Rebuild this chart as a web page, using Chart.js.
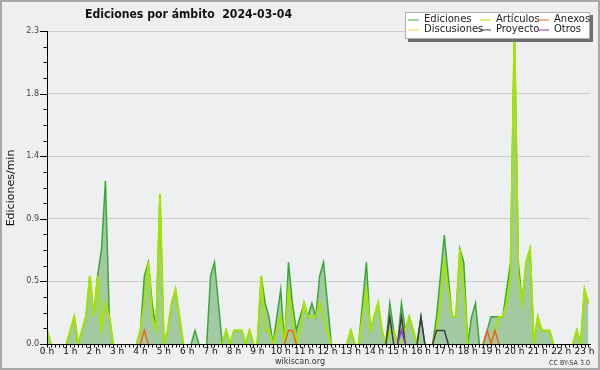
<!DOCTYPE html>
<html lang="es">
<head>
<meta charset="utf-8">
<title>Ediciones por ámbito 2024-03-04</title>
<script src="https://cdn.jsdelivr.net/npm/chart.js@4/dist/chart.umd.min.js"></script>
<style>
  html, body { margin: 0; padding: 0; background: #eeeff1; }
  #wrap { width: 600px; height: 370px; }
</style>
</head>
<body>
<div id="wrap"><canvas id="myChart" width="600" height="370"></canvas></div>
<script>
/*=====================================================================
  Ediciones por ámbito 2024-03-04 (una muestra cada 10 minutos)
=====================================================================*/

// Etiquetas de las horas (una cada 6 muestras)
const hourLabels = [
  "0 h", "1 h", "2 h", "3 h", "4 h", "5 h", "6 h", "7 h",
  "8 h", "9 h", "10 h", "11 h", "12 h", "13 h", "14 h", "15 h",
  "16 h", "17 h", "18 h", "19 h", "20 h", "21 h", "22 h", "23 h",
];

// Etiquetas del eje Y
const yLabels = ["0.0", "0.5", "0.9", "1.4", "1.8", "2.3"];
const Y_MAX = 2.3;

// Ediciones/min, una fila por hora
const ediciones = [
  0.1, 0, 0, 0, 0, 0,
  0.1, 0.2, 0, 0.1, 0.2, 0.5,
  0.2, 0.5, 0.7, 1.2, 0.2, 0,
  0, 0, 0, 0, 0, 0,
  0.1, 0.5, 0.6, 0.3, 0.1, 1.1,
  0, 0.1, 0.3, 0.4, 0.2, 0,
  0, 0, 0.1, 0, 0, 0,
  0.5, 0.6, 0.3, 0, 0.1, 0,
  0.1, 0.1, 0.1, 0, 0.1, 0,
  0, 0.5, 0.3, 0.2, 0, 0.2,
  0.4, 0, 0.6, 0.3, 0.1, 0.2,
  0.3, 0.2, 0.3, 0.2, 0.5, 0.6,
  0.3, 0, 0, 0, 0, 0,
  0.1, 0, 0, 0.3, 0.6, 0.1,
  0.2, 0.3, 0.1, 0, 0.3, 0.1,
  0, 0.3, 0.1, 0.2, 0.1, 0,
  0.2, 0, 0, 0, 0.2, 0.5,
  0.8, 0.5, 0.2, 0.2, 0.7, 0.6,
  0, 0.2, 0.3, 0, 0, 0.1,
  0.2, 0.2, 0.2, 0.2, 0.4, 0.6,
  2.3, 0.6, 0.3, 0.6, 0.7, 0,
  0.2, 0.1, 0.1, 0.1, 0, 0,
  0, 0, 0, 0, 0.1, 0,
  0.4, 0.3,
];

const articulos = [
  0.1, 0, 0, 0, 0, 0,
  0.1, 0.2, 0, 0.1, 0.2, 0.5,
  0.2, 0.5, 0.1, 0.3, 0.2, 0,
  0, 0, 0, 0, 0, 0,
  0.1, 0.3, 0.6, 0.2, 0.1, 1.1,
  0, 0.1, 0.3, 0.4, 0.2, 0,
  0, 0, 0, 0, 0, 0,
  0, 0, 0, 0, 0.1, 0,
  0.1, 0.1, 0.1, 0, 0.1, 0,
  0, 0.5, 0.1, 0.1, 0, 0.1,
  0.2, 0, 0.4, 0.2, 0, 0.1,
  0.3, 0.2, 0.2, 0.2, 0.3, 0.2,
  0.1, 0, 0, 0, 0, 0,
  0.1, 0, 0, 0.2, 0.4, 0.1,
  0.2, 0.3, 0.1, 0, 0.1, 0.1,
  0, 0, 0.1, 0.2, 0.1, 0,
  0, 0, 0, 0, 0.1, 0.3,
  0.6, 0.4, 0.2, 0.2, 0.7, 0.4,
  0, 0, 0, 0, 0, 0,
  0, 0.1, 0.2, 0.2, 0.3, 0.5,
  2.3, 0.5, 0.3, 0.6, 0.7, 0,
  0.2, 0.1, 0.1, 0.1, 0, 0,
  0, 0, 0, 0, 0.1, 0,
  0.4, 0.3,
];

const anexos = [
  0, 0, 0, 0, 0, 0,
  0, 0, 0, 0, 0, 0,
  0, 0, 0, 0, 0, 0,
  0, 0, 0, 0, 0, 0,
  0, 0.1, 0, 0, 0, 0,
  0, 0, 0, 0, 0, 0,
  0, 0, 0, 0, 0, 0,
  0, 0, 0, 0, 0, 0,
  0, 0, 0, 0, 0, 0,
  0, 0, 0, 0, 0, 0,
  0, 0, 0.1, 0.1, 0, 0,
  0, 0, 0, 0, 0, 0,
  0, 0, 0, 0, 0, 0,
  0, 0, 0, 0, 0, 0,
  0, 0, 0, 0, 0, 0,
  0, 0, 0, 0, 0, 0,
  0, 0, 0, 0, 0, 0,
  0, 0, 0, 0, 0, 0,
  0, 0, 0, 0, 0, 0.1,
  0, 0.1, 0, 0, 0, 0,
  0, 0, 0, 0, 0, 0,
  0, 0, 0, 0, 0, 0,
  0, 0, 0, 0, 0, 0,
  0, 0,
];

const discusiones = [
  0, 0, 0, 0, 0, 0,
  0, 0, 0, 0, 0, 0,
  0, 0, 0, 0, 0, 0,
  0, 0, 0, 0, 0, 0,
  0, 0, 0, 0, 0, 0,
  0, 0, 0, 0, 0, 0,
  0, 0, 0, 0, 0, 0,
  0, 0, 0, 0, 0, 0,
  0, 0, 0, 0, 0, 0,
  0, 0, 0, 0, 0, 0,
  0, 0, 0, 0, 0, 0,
  0, 0, 0, 0, 0, 0,
  0, 0, 0, 0, 0, 0,
  0, 0, 0, 0, 0, 0,
  0, 0, 0, 0, 0, 0,
  0, 0, 0, 0, 0, 0,
  0, 0, 0, 0, 0, 0,
  0, 0, 0, 0, 0, 0,
  0, 0, 0, 0, 0, 0,
  0, 0, 0, 0, 0, 0,
  0, 0, 0, 0, 0, 0,
  0, 0, 0, 0, 0, 0,
  0, 0, 0, 0, 0, 0,
  0, 0,
];

const proyecto = [
  0, 0, 0, 0, 0, 0,
  0, 0, 0, 0, 0, 0,
  0, 0, 0, 0, 0, 0,
  0, 0, 0, 0, 0, 0,
  0, 0, 0, 0, 0, 0,
  0, 0, 0, 0, 0, 0,
  0, 0, 0, 0, 0, 0,
  0, 0, 0, 0, 0, 0,
  0, 0, 0, 0, 0, 0,
  0, 0, 0, 0, 0, 0,
  0, 0, 0, 0, 0, 0,
  0, 0, 0, 0, 0, 0,
  0, 0, 0, 0, 0, 0,
  0, 0, 0, 0, 0, 0,
  0, 0, 0, 0, 0.2, 0,
  0, 0.2, 0, 0, 0, 0,
  0.2, 0, 0, 0, 0.1, 0.1,
  0.1, 0, 0, 0, 0, 0,
  0, 0, 0, 0, 0, 0,
  0, 0, 0, 0, 0, 0,
  0, 0, 0, 0, 0, 0,
  0, 0, 0, 0, 0, 0,
  0, 0, 0, 0, 0, 0,
  0, 0,
];

const otros = [
  0, 0, 0, 0, 0, 0,
  0, 0, 0, 0, 0, 0,
  0, 0, 0, 0, 0, 0,
  0, 0, 0, 0, 0, 0,
  0, 0, 0, 0, 0, 0,
  0, 0, 0, 0, 0, 0,
  0, 0, 0, 0, 0, 0,
  0, 0, 0, 0, 0, 0,
  0, 0, 0, 0, 0, 0,
  0, 0, 0, 0, 0, 0,
  0, 0, 0, 0, 0, 0,
  0, 0, 0, 0, 0, 0,
  0, 0, 0, 0, 0, 0,
  0, 0, 0, 0, 0, 0,
  0, 0, 0, 0, 0, 0,
  0, 0.1, 0, 0, 0, 0,
  0, 0, 0, 0, 0, 0,
  0, 0, 0, 0, 0, 0,
  0, 0, 0, 0, 0, 0,
  0, 0, 0, 0, 0, 0,
  0, 0, 0, 0, 0, 0,
  0, 0, 0, 0, 0, 0,
  0, 0, 0, 0, 0, 0,
  0, 0,
];

// Índice de muestra (10 min) como eje X
const slots = ediciones.map((_, i) => i);

const COLORS = {
  bg: "#eeeff1",
  fill: "#a2c9a2",
  ediciones: "#38a838",
  articulos: "#a6e400",
  anexos: "#f0601e",
  discusiones: "#f2d040",
  proyecto: "#3c3c3c",
  otros: "#8a30e0",
};

const FONT = '"DejaVu Sans", sans-serif';

// Oculta los tramos planos en cero (la línea base queda negra)
const hideFlat = (ctx) =>
  ctx.p0.parsed.y === 0 && ctx.p1.parsed.y === 0 ? "rgba(0,0,0,0)" : undefined;

const makeLine = (label, data, color, order, width = 1.5) => ({
  label,
  data,
  borderColor: color,
  borderWidth: width,
  pointRadius: 0,
  fill: false,
  tension: 0,
  order,
  segment: { borderColor: hideFlat },
});

// Orden de la leyenda: fila 1 / fila 2
const datasets = [
  { ...makeLine("Ediciones", ediciones, COLORS.ediciones, 10), fill: "origin", backgroundColor: COLORS.fill },
  makeLine("Artículos", articulos, COLORS.articulos, 9, 2),
  makeLine("Anexos", anexos, COLORS.anexos, 3),
  makeLine("Discusiones", discusiones, COLORS.discusiones, 4),
  makeLine("Proyecto", proyecto, COLORS.proyecto, 2),
  makeLine("Otros", otros, COLORS.otros, 1),
];

/**
 * Fondo y marco
 */
const framePlugin = {
  id: "frame",
  beforeDraw(chart) {
    const { ctx, width, height } = chart;
    ctx.save();
    ctx.fillStyle = COLORS.bg;
    ctx.fillRect(0, 0, width, height);
    ctx.strokeStyle = "#a8a8a8";
    ctx.lineWidth = 2;
    ctx.strokeRect(1, 1, width - 2, height - 2);
    ctx.restore();
  },
};

/**
 * Marcas de los ejes (posiciones tomadas de las escalas):
 * X cada 10 minutos, Y largas en las etiquetas y cortas entre ellas
 */
const axisTicksPlugin = {
  id: "axisTicks",
  afterDatasetsDraw(chart) {
    const { ctx, chartArea } = chart;
    const xs = chart.scales.x;
    const ys = chart.scales.y;
    ctx.save();
    ctx.strokeStyle = "#000";
    ctx.lineWidth = 1;
    ctx.beginPath();
    xs.ticks.forEach((t) => {
      const px = Math.round(xs.getPixelForValue(t.value)) + 0.5;
      ctx.moveTo(px, chartArea.bottom);
      ctx.lineTo(px, chartArea.bottom + 3.5);
    });
    ys.ticks.forEach((t, i) => {
      const py = Math.round(ys.getPixelForValue(t.value)) + 0.5;
      ctx.moveTo(chartArea.left - (i % 4 === 0 ? 7 : 3.5), py);
      ctx.lineTo(chartArea.left, py);
    });
    ctx.stroke();
    ctx.restore();
  },
};

/**
 * Título, pie y leyenda
 */
const decorPlugin = {
  id: "decor",
  afterDraw(chart) {
    const { ctx } = chart;
    ctx.save();
    ctx.fillStyle = "#111";
    ctx.textBaseline = "alphabetic";
    ctx.textAlign = "left";
    ctx.font = `bold 12px ${FONT}`;
    ctx.fillText("Ediciones por ámbito  2024-03-04", 85, 18, 207);

    // título del eje Y
    ctx.save();
    ctx.translate(14, 188);
    ctx.rotate(-Math.PI / 2);
    ctx.textAlign = "center";
    ctx.font = `11px ${FONT}`;
    ctx.fillText("Ediciones/min", 0, 0, 78);
    ctx.restore();

    ctx.fillStyle = "#333";
    ctx.textAlign = "center";
    ctx.font = `9px ${FONT}`;
    ctx.fillText("wikiscan.org", 300, 364, 50);
    ctx.textAlign = "right";
    ctx.font = `7px ${FONT}`;
    ctx.fillText("CC BY-SA 3.0", 590, 365, 41);

    // leyenda
    const box = { x: 405, y: 12, w: 185, h: 27 };
    ctx.fillStyle = "#6e6e6e";
    ctx.fillRect(box.x + 3, box.y + 3, box.w, box.h);
    ctx.fillStyle = "#fff";
    ctx.fillRect(box.x, box.y, box.w, box.h);
    ctx.strokeStyle = "#b0b0b0";
    ctx.lineWidth = 1;
    ctx.strokeRect(box.x + 0.5, box.y + 0.5, box.w - 1, box.h - 1);

    const cols = [408, 480, 538];
    const rows = [19.5, 29.5];
    ctx.font = `10px ${FONT}`;
    ctx.textAlign = "left";
    ctx.textBaseline = "middle";
    chart.data.datasets.forEach((ds, k) => {
      const x = cols[k % 3];
      const y = rows[Math.floor(k / 3)];
      ctx.strokeStyle = ds.borderColor;
      ctx.lineWidth = 1;
      ctx.beginPath();
      ctx.moveTo(x, y + 0.5);
      ctx.lineTo(x + 11, y + 0.5);
      ctx.stroke();
      ctx.fillStyle = "#222";
      ctx.fillText(ds.label, x + 16, y);
    });
    ctx.restore();
  },
};

const chartConfig = {
  type: "line",
  data: { labels: slots, datasets },
  options: {
    responsive: false,
    animation: false,
    layout: { padding: { left: 0, right: 10, top: 31, bottom: 0 } },
    plugins: {
      legend: { display: false },
      tooltip: { enabled: false },
    },
    scales: {
      x: {
        type: "linear",
        min: 0,
        max: 139.4,
        afterFit: (scale) => { scale.height = 26; },
        afterBuildTicks: (scale) => { scale.ticks = slots.map((v) => ({ value: v })); },
        border: { display: true, color: "#000", width: 1, z: 1 },
        grid: { display: true, drawOnChartArea: false, drawTicks: false },
        ticks: {
          autoSkip: false,
          maxRotation: 0,
          minRotation: 0,
          padding: 2,
          color: "#111",
          font: { family: FONT, size: 9 },
          callback: (v) => (v % 6 === 0 ? hourLabels[v / 6] : ""),
        },
      },
      y: {
        min: 0,
        max: Y_MAX,
        afterFit: (scale) => { scale.width = 47; },
        afterBuildTicks: (scale) => {
          const n = (yLabels.length - 1) * 4;
          scale.ticks = Array.from({ length: n + 1 }, (_, k) => ({ value: (Y_MAX * k) / n }));
        },
        border: { color: "#000", width: 1, z: 1 },
        grid: {
          color: (c) => (c.index % 4 === 0 ? "#cdcdcd" : "rgba(0,0,0,0)"),
          drawTicks: false,
        },
        ticks: {
          padding: 8,
          color: "#444",
          font: { family: FONT, size: 8 },
          callback: (v, i) => (i % 4 === 0 ? yLabels[i / 4] : ""),
        },
      },
    },
  },
  plugins: [framePlugin, axisTicksPlugin, decorPlugin],
};

const initChart = () => {
  const canvas = document.getElementById("myChart");
  if (!canvas) return;
  new Chart(canvas, chartConfig);
};

if (document.readyState === "loading") {
  document.addEventListener("DOMContentLoaded", initChart);
} else {
  initChart();
}
</script>
</body>
</html>
